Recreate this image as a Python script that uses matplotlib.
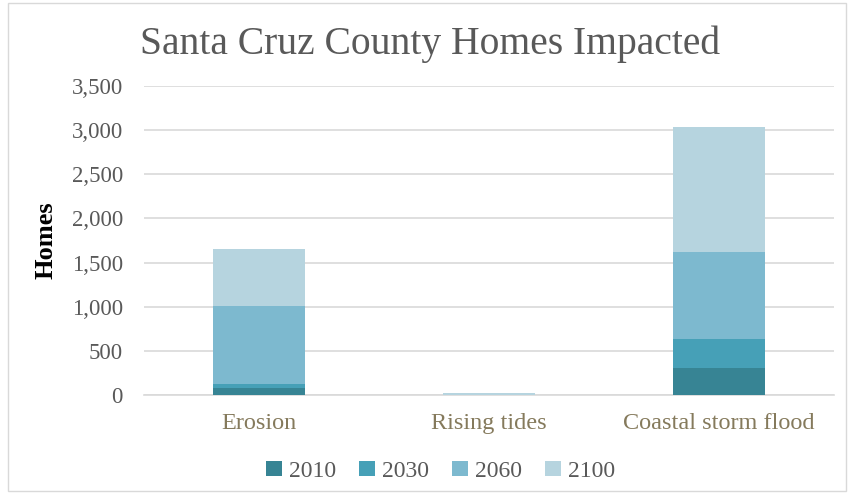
import numpy as np
import matplotlib
matplotlib.use("Agg")
import matplotlib.pyplot as plt
from matplotlib.patches import Rectangle

# Homes impacted by hazard type and year
categories = ["Erosion", "Rising tides", "Coastal storm flood"]
years = ["2010", "2030", "2060", "2100"]
homes_2010 = [85, 0, 306]
homes_2030 = [45, 0, 336]
homes_2060 = [885, 5, 974]
homes_2100 = [645, 20, 1413]
yticks = [0, 500, 1000, 1500, 2000, 2500, 3000, 3500]

colors = ["#378494", "#46a0b7", "#7db9cf", "#b6d4df"]
series = [homes_2010, homes_2030, homes_2060, homes_2100]

plt.rcParams["font.family"] = ["Liberation Serif", "DejaVu Serif"]

fig = plt.figure(figsize=(8.51, 4.93), dpi=100)
ax = fig.add_axes([0.169, 0.198, 0.811, 0.628])

x = np.arange(len(categories))
bottom = np.zeros(len(categories))
for label, vals, col in zip(years, series, colors):
    ax.bar(x, vals, width=0.4, bottom=bottom, color=col, label=label,
           linewidth=0, zorder=3)
    bottom += np.array(vals)

ax.set_xlim(-0.5, 2.5)
ax.set_ylim(0, 3500)
ax.set_yticks(yticks)
ax.set_yticklabels([f"{v:,}" for v in yticks])
ax.set_xticks(x)
ax.set_xticklabels(categories)

ax.grid(axis="y", color="#d9d9d9", linewidth=1.2, zorder=0)
for s in ["top", "right", "left"]:
    ax.spines[s].set_visible(False)
ax.spines["bottom"].set_color("#d9d9d9")
ax.spines["bottom"].set_linewidth(1.2)
ax.tick_params(axis="both", length=0)
ax.tick_params(axis="y", labelsize=16.5, labelcolor="#595959", pad=15)
ax.tick_params(axis="x", labelsize=17.5, labelcolor="#857a5c", pad=13)

ax.set_ylabel("Homes", fontsize=19, fontweight="bold", color="black", labelpad=10)

fig.text(0.505, 0.91, "Santa Cruz County Homes Impacted", ha="center", va="center",
         fontsize=28.5, color="#595959")

ax.legend(loc="center", bbox_to_anchor=(0.43, -0.245), ncol=4, frameon=False,
          fontsize=17, labelcolor="#595959", handlelength=0.65, handleheight=0.65,
          handletextpad=0.3, columnspacing=1.0)

# light frame round the whole chart
fig.patches.append(Rectangle((0.009, 0.004), 0.985, 0.99, transform=fig.transFigure,
                             fill=False, edgecolor="#d9d9d9", linewidth=1))

fig.savefig("out.png", dpi=100)
